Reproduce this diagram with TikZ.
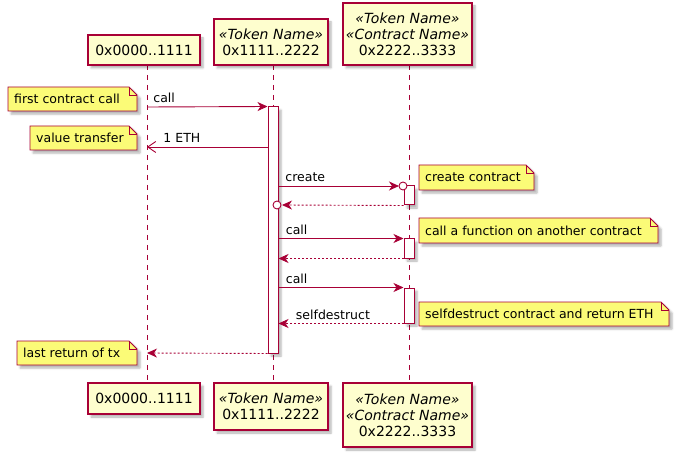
\documentclass[tikz,border=0pt]{standalone}
\usepackage{fontspec}
\setmainfont{DejaVu Sans}
\usetikzlibrary{arrows.meta,shadows.blur}
\definecolor{pu}{HTML}{A80036}
\definecolor{pfill}{HTML}{FEFECE}
\definecolor{nfill}{HTML}{FBFB77}
\newcommand\mynote[6]{%
  \filldraw[notec] (#2,#3) -- (#4-8,#3) -- (#4,#3+8) -- (#4,#5) -- (#2,#5) -- cycle;
  \draw[pu, line width=0.8pt] (#4-8,#3) -- (#4-8,#3+8) -- (#4,#3+8);
  \node[lbl, anchor=west] (#1) at (#2+6,{(#3+#5)/2}) {#6};
}
\begin{document}
\begin{tikzpicture}[x=1pt,y=-1pt,
  shad/.style={blur shadow={shadow xshift=3pt, shadow yshift=-3pt, shadow blur steps=5, shadow opacity=30, shadow blur radius=2pt}},
  part/.style={draw=pu, fill=pfill, line width=1.2pt, inner sep=0pt, align=center,
    font=\fontsize{14}{16}\selectfont, shad},
  lifeline/.style={draw=pu, line width=1pt, dash pattern=on 5pt off 5pt},
  act/.style={draw=pu, fill=white, line width=1pt, minimum width=10pt, inner sep=0pt, shad},
  notec/.style={draw=pu, fill=nfill, line width=0.8pt, shad},
  lbl/.style={font=\fontsize{12.5}{15}\selectfont, inner sep=0pt},
  msg/.style={draw=pu, line width=0.9pt, -{Stealth[length=10pt,width=9pt,inset=3pt]}},
  async/.style={draw=pu, line width=0.9pt, -{Straight Barb[length=8pt,width=11pt]}},
  ret/.style={msg, dash pattern=on 2pt off 2pt},
  ml/.style={lbl, anchor=base west, yshift=4pt}
]
\useasboundingbox (0,0) rectangle (680,457);

% lifelines
\coordinate (L1t) at (147,65); \coordinate (L1b) at (147,383);
\coordinate (L2t) at (273,65); \coordinate (L2b) at (273,383);
\coordinate (L3t) at (409,65); \coordinate (L3b) at (409,383);
\draw[lifeline] (L1t) -- (L1b);
\draw[lifeline] (L2t) -- (L2b);
\draw[lifeline] (L3t) -- (L3b);

% participants
\node[part, minimum width=112pt, minimum height=30pt] (P1top) at (144,50) {0x0000..1111};
\node[part, minimum width=114pt, minimum height=46pt] (P2top) at (271,42) {\textit{«Token Name»}\\0x1111..2222};
\node[part, minimum width=129pt, minimum height=62pt] (P3top) at (407.5,34) {\textit{«Token Name»}\\\textit{«Contract Name»}\\0x2222..3333};
\node[part, minimum width=112pt, minimum height=31pt] (P1bot) at (144,398.5) {0x0000..1111};
\node[part, minimum width=114pt, minimum height=47pt] (P2bot) at (271,406.5) {\textit{«Token Name»}\\0x1111..2222};
\node[part, minimum width=129pt, minimum height=64pt] (P3bot) at (407.5,415) {\textit{«Token Name»}\\\textit{«Contract Name»}\\0x2222..3333};

% activations
\node[act, minimum height=246pt] (A2) at (273,230) {};
\node[act, minimum height=19pt] (A3a) at (409,195.5) {};
\node[act, minimum height=19pt] (A3b) at (409,248.5) {};
\node[act, minimum height=35pt] (A3c) at (409,305.5) {};

% message endpoints
\coordinate (m1s) at (147,107);
\coordinate (m2e) at (147,147);
\coordinate (m2s) at (268,147);
\coordinate (m3s) at (278,186);
\coordinate (m3e) at (399,186);
\coordinate (c3) at (403,186);
\coordinate (m4e) at (282,205);
\coordinate (c4) at (277,205);
\coordinate (m9e) at (147,353);

\draw[msg] (m1s) -- (A2.north west) node[ml, pos=0, xshift=6pt] {call};
\draw[async] (m2s) -- (m2e) node[ml, pos=1, xshift=16pt] {1 ETH};
\draw[msg] (m3s) -- (m3e) node[ml, pos=0, xshift=7pt] {create};
\draw[pu, line width=0.9pt, fill=white] (c3) circle (4pt);
\draw[ret] (A3a.south west) -- (m4e);
\draw[pu, line width=0.9pt, fill=white] (c4) circle (4pt);
\draw[msg] (A2.east |- A3b.north) -- (A3b.north west) node[ml, pos=0, xshift=7pt] {call};
\draw[ret] (A3b.south west) -- (A2.east |- A3b.south);
\draw[msg] (A2.east |- A3c.north) -- (A3c.north west) node[ml, pos=0, xshift=7pt] {call};
\draw[ret] (A3c.south west) -- (A2.east |- A3c.south) node[ml, pos=1, xshift=17pt] {selfdestruct};
\draw[ret] (A2.south west) -- (m9e);

% notes
\mynote{N1}{8}{87}{137}{111}{first contract call}
\mynote{N2}{30}{126}{137}{150}{value transfer}
\mynote{N3}{419}{165}{534}{190}{create contract}
\mynote{N4}{419}{218}{658}{243}{call a function on another contract}
\mynote{N5}{419}{302}{669}{326}{selfdestruct contract and return ETH}
\mynote{N6}{17}{341}{137}{365}{last return of tx}
\end{tikzpicture}
\end{document}
